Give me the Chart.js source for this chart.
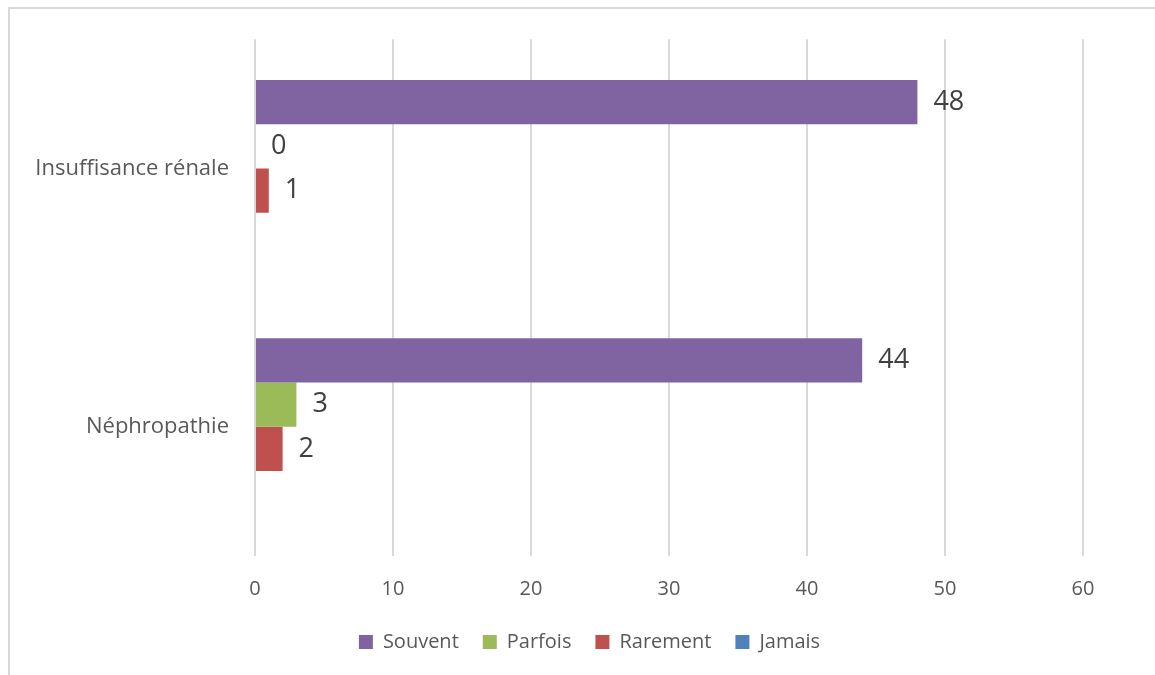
<!DOCTYPE html>
<html>
<head>
<meta charset="utf-8">
<script src="https://cdn.jsdelivr.net/npm/chart.js@4"></script>
<style>
    html, body { margin: 0; background: #ffffff; overflow: hidden; }
    #frame {
        position: absolute;
        left: 8px;
        top: 7px;
        width: 1160px;
        height: 666px;
        border-top: 2px solid #d9d9d9;
        border-left: 2px solid #d9d9d9;
    }
    #wrap {
        position: absolute;
        left: 0;
        top: 0;
        width: 1155px;
        height: 675px;
    }
</style>
</head>
<body>
<div id="frame"></div>
<div id="wrap"><canvas id="chart"></canvas></div>
<script>
// categories, top to bottom
const categories = ["Insuffisance rénale", "Néphropathie"];

// series values
const souvent  = [48, 44];
const parfois  = [0, 3];
const rarement = [1, 2];
const jamais   = [null, null];

const seriesNames = ["Souvent", "Parfois", "Rarement", "Jamais"];
const seriesColors = ["#8064A2", "#9BBB59", "#C0504D", "#4F81BD"];

// x axis ticks
const xMin = 0;
const xMax = 60;
const xStep = 10;

// draw the value next to the end of each bar
const valueLabels = {
    id: "valueLabels",
    afterDatasetsDraw(chart)
    {
        const ctx = chart.ctx;
        ctx.save();
        ctx.font = "27px 'Open Sans'";
        ctx.fillStyle = "#404040";
        ctx.textAlign = "left";
        ctx.textBaseline = "middle";

        chart.data.datasets.forEach((ds, i) =>
        {
            const meta = chart.getDatasetMeta(i);
            meta.data.forEach((bar, j) =>
            {
                const v = ds.data[j];
                if(v === null || v === undefined)
                    return;
                ctx.fillText(String(v), bar.x + 16, bar.y);
            });
        });

        ctx.restore();
    }
};

// shift the legend so it is centred like the original
const legendShift = {
    id: "legendShift",
    afterLayout(chart)
    {
        if(chart.legend)
        {
            chart.legend.left += 86;
        }
    }
};

const seriesData = [souvent, parfois, rarement, jamais];

const ctx = document.getElementById("chart").getContext("2d");

new Chart(ctx, {
    type: "bar",
    data: {
        labels: categories,
        datasets: seriesNames.map((name, i) => ({
            label: name,
            data: seriesData[i],
            backgroundColor: seriesColors[i],
            borderWidth: 0,
            categoryPercentage: 0.685,
            barPercentage: 1.0
        }))
    },
    options: {
        indexAxis: "y",
        responsive: true,
        maintainAspectRatio: false,
        animation: false,
        layout: {
            padding: { left: 10, right: 72, top: 34, bottom: 13 }
        },
        scales: {
            x: {
                min: xMin,
                max: xMax,
                border: { display: false },
                grid: {
                    color: "#d9d9d9",
                    lineWidth: 2,
                    drawTicks: false
                },
                ticks: {
                    stepSize: xStep,
                    padding: 21,
                    color: "#595959",
                    font: { family: "'Open Sans'", size: 20 }
                },
                afterFit(scale) { scale.height = 52; }
            },
            y: {
                border: { display: false },
                grid: { display: false, drawTicks: false },
                ticks: {
                    padding: 26,
                    color: "#595959",
                    font: { family: "'Open Sans'", size: 22 }
                },
                afterFit(scale) { scale.width = 245; }
            }
        },
        plugins: {
            legend: {
                position: "bottom",
                labels: {
                    boxWidth: 14,
                    boxHeight: 14,
                    padding: 24,
                    color: "#595959",
                    font: { family: "'Open Sans'", size: 20 }
                }
            },
            tooltip: { enabled: false }
        }
    },
    plugins: [valueLabels, legendShift]
});
</script>
</body>
</html>
